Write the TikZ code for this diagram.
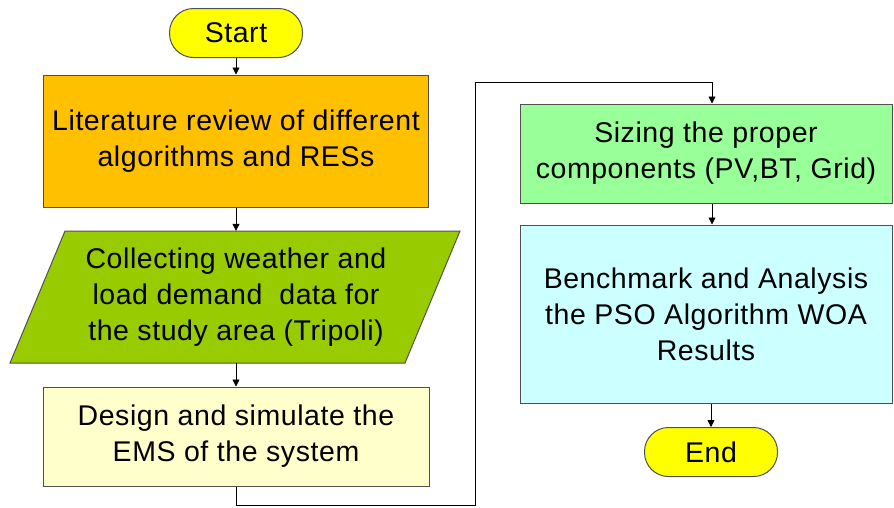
\documentclass[tikz,border=0pt]{standalone}
\usepackage{fontspec}
\setmainfont{Liberation Sans}[LetterSpace=2]
\usetikzlibrary{arrows.meta}
\definecolor{termY}{HTML}{FFFF00}
\definecolor{litO}{HTML}{FFC000}
\definecolor{colG}{HTML}{99CC00}
\definecolor{desY}{HTML}{FFFFCC}
\definecolor{sizG}{HTML}{99FF99}
\definecolor{benC}{HTML}{CCFFFF}
\definecolor{edge}{HTML}{505050}
\begin{document}
\begin{tikzpicture}[x=1pt,y=-1pt,
  every node/.style={font=\fontsize{28.5}{36}\selectfont, align=center, inner sep=0pt},
  term/.style={draw=edge, line width=1pt, fill=termY, rounded corners=24pt, minimum width=133pt, minimum height=49pt},
  procbox/.style={draw=edge, line width=1pt, minimum width=#1},
  flow/.style={draw=black, line width=0.8pt, -{Triangle[length=7pt,width=7pt]}},
  plain/.style={draw=black, line width=0.8pt}]
\useasboundingbox (0,0) rectangle (894,507);
% nodes
\node[term] (start) at (236,33) {Start};
\node[procbox=385pt, fill=litO, minimum height=132pt] (lit) at (236,141)
  {Literature review of different\\algorithms and RESs};
% parallelogram
\fill[colG] (65,231) -- (460,231) -- (405,363) -- (10,363) -- cycle;
\draw[edge, line width=1pt] (65,231) -- (460,231) -- (405,363) -- (10,363) -- cycle;
\node[minimum width=340pt, minimum height=132pt] (coll) at (236,297)
  {Collecting weather and\\load demand\ \ data for\\the study area (Tripoli)};
\node[procbox=386pt, fill=desY, minimum height=99pt] (des) at (236,436.5)
  {Design and simulate the\\EMS of the system};
\node[procbox=372pt, fill=sizG, minimum height=99pt] (siz) at (706,153.5)
  {Sizing the proper\\components (PV,BT, Grid)};
\node[procbox=372pt, fill=benC, minimum height=178pt] (ben) at (706,314)
  {Benchmark and Analysis\\the PSO Algorithm WOA\\Results};
\node[term] (end) at (711,452) {End};
% connectors
\coordinate (c1) at (236,505);
\coordinate (c2) at (475,505);
\coordinate (c3) at (475,82);
\coordinate (c4) at (712,82);
\draw[flow] (start) -- (lit);
\draw[flow] (lit.south) -- (coll.north);
\draw[flow] (coll.south) -- (des.north);
\draw[plain] (des.south) -- (c1) -- (c2) -- (c3) -- (c4);
\draw[flow] (c4) -- (c4 |- siz.north);
\draw[flow] (siz.south -| c4) -- (ben.north -| c4);
\draw[flow] (ben.south -| end) -- (end.north);
\end{tikzpicture}
\end{document}
